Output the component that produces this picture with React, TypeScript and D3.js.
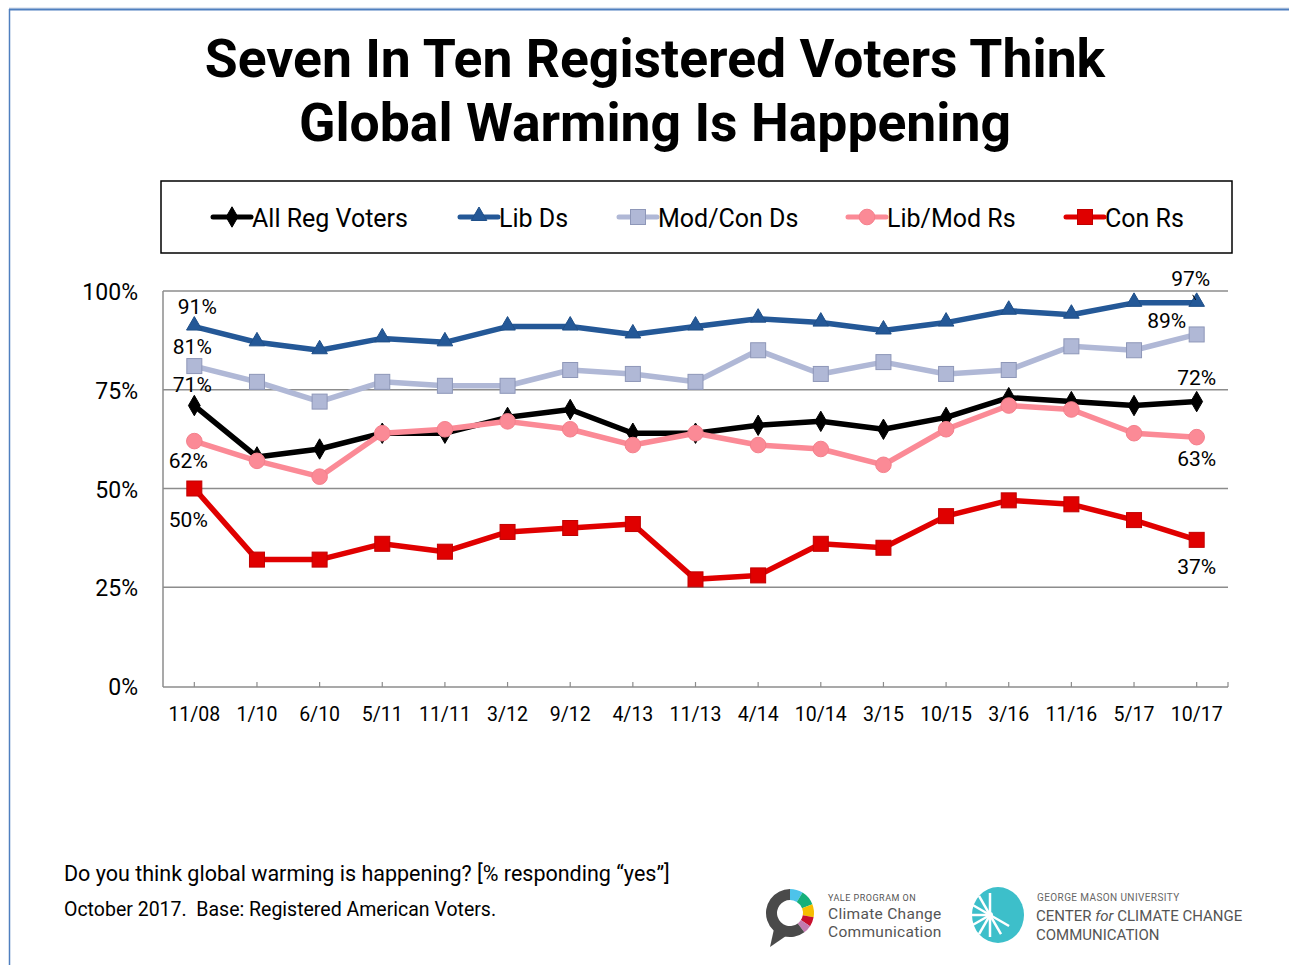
import React from "react";
import * as d3 from "d3";

const categories = ["11/08","1/10","6/10","5/11","11/11","3/12","9/12","4/13","11/13","4/14","10/14","3/15","10/15","3/16","11/16","5/17","10/17"];
const allRegVoters = [71,58,60,64,64,68,70,64,64,66,67,65,68,73,72,71,72];
const libDs = [91,87,85,88,87,91,91,89,91,93,92,90,92,95,94,97,97];
const modConDs = [81,77,72,77,76,76,80,79,77,85,79,82,79,80,86,85,89];
const libModRs = [62,57,53,64,65,67,65,61,64,61,60,56,65,71,70,64,63];
const conRs = [50,32,32,36,34,39,40,41,27,28,36,35,43,47,46,42,37];
const yTicks = [0,25,50,75,100];

type Series = { name: string; values: number[]; color: string; stroke: string; marker: string };
const series: Series[] = [
  { name: "All Reg Voters", values: allRegVoters, color: "#000000", stroke: "#000000", marker: "diamond" },
  { name: "Lib Ds", values: libDs, color: "#245897", stroke: "#1f4f88", marker: "triangle" },
  { name: "Mod/Con Ds", values: modConDs, color: "#b0b8d6", stroke: "#8e97b8", marker: "square" },
  { name: "Lib/Mod Rs", values: libModRs, color: "#fb8a96", stroke: "#f4808c", marker: "circle" },
  { name: "Con Rs", values: conRs, color: "#e00000", stroke: "#c00000", marker: "square" },
];

// value labels: [series index, category index, dx, dy]
const labels: [number, number, number, number][] = [
  [1, 0, 3, -13],
  [2, 0, -2, -12],
  [0, 0, -2, -14],
  [3, 0, -6, 27],
  [4, 0, -6, 38],
  [1, 16, -6, -17],
  [2, 16, -30, -6],
  [0, 16, 0, -17],
  [3, 16, 0, 29],
  [4, 16, 0, 34],
];

const legendX = [213, 460, 619, 848, 1066];

function Marker({ type, x, y, color, stroke }: { type: string; x: number; y: number; color: string; stroke: string }) {
  if (type === "diamond") {
    const s = d3.symbol().type(d3.symbolDiamond).size(120)();
    return <path d={s || ""} transform={`translate(${x},${y})`} fill={color} stroke={stroke} strokeWidth={1} />;
  }
  if (type === "triangle") {
    const s = d3.symbol().type(d3.symbolTriangle).size(105)();
    return <path d={s || ""} transform={`translate(${x},${y - 1})`} fill={color} stroke={stroke} strokeWidth={1} />;
  }
  if (type === "circle") {
    return <circle cx={x} cy={y} r={7.8} fill={color} stroke={stroke} strokeWidth={1} />;
  }
  return <rect x={x - 7.5} y={y - 7.5} width={15} height={15} fill={color} stroke={stroke} strokeWidth={1} />;
}

export default function App() {
  const W = 1289, H = 965;
  const left = 163, right = 1228, top = 291, bottom = 686;
  const x = d3.scaleBand<string>().domain(categories).range([left, right]);
  const cx = (c: string) => (x(c) || 0) + x.bandwidth() / 2;
  const y = d3.scaleLinear().domain([0, 100]).range([bottom, top]);
  const line = d3.line<number>().x((_, i) => cx(categories[i])).y((v) => y(v));
  const font = "Roboto, 'Noto Sans', sans-serif";

  return (
    <svg width={W} height={H} style={{ position: "absolute", left: 0, top: 0, background: "#fff" }} fontFamily={font}>
      <rect x={0} y={0} width={W} height={H} fill="#fff" />
      {/* outer border */}
      <line x1={9} y1={8} x2={W} y2={8} stroke="#d0d8e4" strokeWidth={1} />
      <line x1={9} y1={9.5} x2={W} y2={9.5} stroke="#4f7fbf" strokeWidth={2} />
      <line x1={9.5} y1={9} x2={9.5} y2={H} stroke="#4f7fbf" strokeWidth={1.5} />

      {/* title */}
      <text x={655} y={77} textAnchor="middle" fontSize={53.5} fontWeight="bold" fill="#000">Seven In Ten Registered Voters Think</text>
      <text x={655} y={141} textAnchor="middle" fontSize={53.5} fontWeight="bold" fill="#000">Global Warming Is Happening</text>

      {/* legend */}
      <rect x={161} y={181} width={1071} height={72} fill="none" stroke="#000" strokeWidth={1.5} />
      {series.map((s, i) => (
        <g key={s.name}>
          <line x1={legendX[i]} x2={legendX[i] + 38} y1={217} y2={217} stroke={s.color} strokeWidth={5} strokeLinecap="round" />
          <Marker type={s.marker} x={legendX[i] + 19} y={217} color={s.color} stroke={s.stroke} />
          <text x={legendX[i] + 39} y={227} fontSize={25} fill="#000">{s.name}</text>
        </g>
      ))}

      {/* gridlines */}
      {yTicks.filter((t) => t > 0).map((t) => (
        <line key={t} x1={left} x2={right} y1={y(t)} y2={y(t)} stroke="#8c8c8c" strokeWidth={1.5} />
      ))}
      {/* axes */}
      <line x1={left} x2={left} y1={top} y2={bottom + 1} stroke="#8c8c8c" strokeWidth={1.5} />
      <line x1={left} x2={right} y1={bottom + 1} y2={bottom + 1} stroke="#8c8c8c" strokeWidth={1.5} />
      {categories.map((c) => (
        <line key={c} x1={cx(c)} x2={cx(c)} y1={bottom + 1} y2={bottom - 4} stroke="#8c8c8c" strokeWidth={1.2} />
      ))}
      <line x1={right} x2={right} y1={bottom + 1} y2={bottom - 4} stroke="#8c8c8c" strokeWidth={1.2} />
      {yTicks.map((t) => (
        <text key={t} x={138} y={y(t) + 9} textAnchor="end" fontSize={23} fill="#000">{t}%</text>
      ))}
      {categories.map((c) => (
        <text key={c} x={cx(c)} y={721} textAnchor="middle" fontSize={19.5} fill="#000">{c}</text>
      ))}

      {/* series */}
      {series.map((s) => (
        <g key={s.name}>
          <path d={line(s.values) || ""} fill="none" stroke={s.color} strokeWidth={5.5} strokeLinejoin="round" />
          {s.values.map((v, i) => (
            <Marker key={i} type={s.marker} x={cx(categories[i])} y={y(v)} color={s.color} stroke={s.stroke} />
          ))}
        </g>
      ))}

      {/* value labels */}
      {labels.map(([si, ci, dx, dy], k) => {
        const v = series[si].values[ci];
        return (
          <text key={k} x={cx(categories[ci]) + dx} y={y(v) + dy} textAnchor="middle" fontSize={21} fill="#000">{v}%</text>
        );
      })}
      <line x1={cx(categories[16]) - 4} y1={y(libDs[16]) - 8} x2={cx(categories[16]) - 1} y2={y(libDs[16]) - 3} stroke="#000" strokeWidth={1} />

      {/* footnote */}
      <text x={64} y={881} fontSize={21.5} fill="#000">Do you think global warming is happening? [% responding “yes”]</text>
      <text x={64} y={916} fontSize={19.5} fill="#000" style={{ whiteSpace: "pre" }}>October 2017.  Base: Registered American Voters.</text>

      {/* Yale logo */}
      <g transform="translate(790,913)">
        {(() => {
          const arc = d3.arc<any>().innerRadius(13).outerRadius(24);
          const segs = [
            { s: 0, e: 0.55, c: "#4dc3ea" },
            { s: 0.55, e: 1.2, c: "#15b07a" },
            { s: 1.2, e: 1.75, c: "#f6be00" },
            { s: 1.75, e: 2.15, c: "#c8102e" },
            { s: 2.15, e: 2.5, c: "#c27bb0" },
            { s: 2.5, e: Math.PI * 2, c: "#4a4a4a" },
          ];
          return (
            <>
              {segs.map((g, i) => (
                <path key={i} d={arc({ startAngle: g.s, endAngle: g.e }) || ""} fill={g.c} />
              ))}
              <path d="M -16 16 L -20 34 L -4 23 Z" fill="#4a4a4a" />
            </>
          );
        })()}
      </g>
      <text x={828} y={901} fontSize={9} fill="#555" letterSpacing={0.5}>YALE PROGRAM ON</text>
      <text x={828} y={919} fontSize={15.5} fill="#555" letterSpacing={0.3}>Climate Change</text>
      <text x={828} y={937} fontSize={15.5} fill="#555" letterSpacing={0.3}>Communication</text>

      {/* GMU logo */}
      <g transform="translate(998,915)">
        <ellipse cx={0} cy={0} rx={26} ry={28} fill="#3dbfca" />
        {[-150, -120, -90, -60, -30, 0, 30, 60, 90].map((a, i) => {
          const r = (a * Math.PI) / 180;
          return (
            <line key={i} x1={-8} y1={0} x2={-8 + Math.cos(r + Math.PI) * 22} y2={Math.sin(r + Math.PI) * 22} stroke="#fff" strokeWidth={2.5} />
          );
        })}
        <circle cx={-8} cy={0} r={3} fill="#fff" />
      </g>
      <text x={1037} y={901} fontSize={10} fill="#666" letterSpacing={0.4}>GEORGE MASON UNIVERSITY</text>
      <text x={1036} y={921} fontSize={15} fill="#555" letterSpacing={0}>CENTER <tspan fontStyle="italic">for</tspan> CLIMATE CHANGE</text>
      <text x={1036} y={940} fontSize={15} fill="#555" letterSpacing={0}>COMMUNICATION</text>
    </svg>
  );
}
